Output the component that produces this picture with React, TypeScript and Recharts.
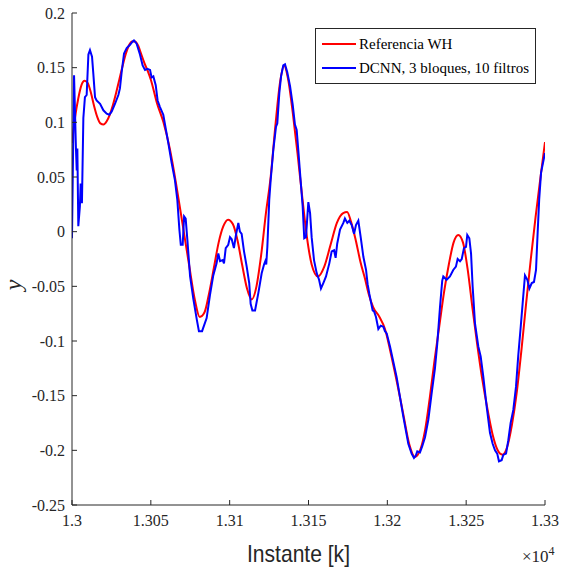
import { LineChart, Line, XAxis, YAxis, Legend } from 'recharts';

// Referencia WH (smooth reference)
const redX = [
  13000, 13002, 13004, 13006, 13008, 13010, 13012, 13014, 13016, 13018, 13020, 13022, 13024, 13026,
  13028, 13030, 13032, 13034, 13036, 13038, 13040, 13042, 13044, 13046, 13048, 13050, 13054, 13058,
  13062, 13066, 13070, 13074, 13078, 13081, 13084, 13087, 13090, 13093, 13096, 13099, 13102, 13105,
  13108, 13111, 13114, 13117, 13120, 13123, 13126, 13129, 13132, 13134.5, 13137, 13140, 13143, 13146,
  13149, 13152, 13156, 13160, 13164, 13168, 13172, 13174.5, 13177, 13180, 13183, 13186, 13188, 13191,
  13195, 13198.5, 13202, 13206, 13210, 13214, 13217.5, 13221, 13224, 13227, 13230, 13233, 13236, 13239,
  13242, 13245, 13248, 13251, 13254, 13257, 13260, 13264, 13267, 13270, 13273, 13276, 13279, 13282,
  13285, 13288, 13291, 13294, 13297, 13300,
];
const redY = [
  0.081, 0.105, 0.122, 0.134, 0.138, 0.136, 0.127, 0.115, 0.105, 0.099, 0.098, 0.101, 0.107, 0.116,
  0.127, 0.139, 0.151, 0.162, 0.17, 0.174, 0.174, 0.17, 0.162, 0.154, 0.147, 0.139, 0.117, 0.1,
  0.076, 0.044, 0.008, -0.028, -0.063, -0.078, -0.074, -0.056, -0.033, -0.01, 0.005, 0.011, 0.007, -0.008,
  -0.031, -0.052, -0.062, -0.05, -0.021, 0.017, 0.05, 0.097, 0.137, 0.152, 0.14, 0.109, 0.072, 0.032,
  -0.005, -0.03, -0.041, -0.032, -0.012, 0.008, 0.017, 0.018, 0.009, -0.008, -0.028, -0.044, -0.056, -0.069,
  -0.078, -0.089, -0.11, -0.137, -0.166, -0.195, -0.206, -0.199, -0.181, -0.151, -0.117, -0.086, -0.055, -0.03,
  -0.01, -0.003, -0.01, -0.035, -0.07, -0.103, -0.133, -0.166, -0.187, -0.2, -0.204, -0.197, -0.177, -0.148,
  -0.109, -0.066, -0.025, 0.013, 0.048, 0.082,
];

// DCNN, 3 bloques, 10 filtros (noisy estimate)
const blueX = [
  13000, 13001.3, 13002.5, 13003, 13003.4, 13004, 13005, 13005.5, 13006.3, 13007.2, 13008.2, 13009.3,
  13010.4, 13011.4, 13012.7, 13013.5, 13014.6, 13015.6, 13017.8, 13019.9, 13022, 13023.7, 13025.2, 13027.3,
  13029.4, 13030.4, 13031.5, 13033, 13034.7, 13036.8, 13038.5, 13039.3, 13041, 13043.1, 13044.8, 13046.3,
  13047.8, 13049.5, 13050.5, 13051.6, 13053.1, 13054.3, 13055.8, 13057.9, 13059.6, 13061.1, 13063.2, 13065.3,
  13066.8, 13068.1, 13069, 13070.2, 13071.1, 13072.1, 13073.2, 13074.9, 13077, 13079.1, 13080.5, 13082.5,
  13085.4, 13087.5, 13089.6, 13091.7, 13092.8, 13093.9, 13095.6, 13096.4, 13097.5, 13099.1, 13100.2, 13101.3,
  13102.7, 13104, 13105.5, 13106.5, 13107.6, 13109.1, 13110.8, 13112.4, 13113.3, 13114.4, 13116.1, 13118.2,
  13120.3, 13121.8, 13122.6, 13123.2, 13123.9, 13125.1, 13126, 13127.7, 13129.4, 13130.2, 13131.5, 13132.6,
  13134, 13135.1, 13136.5, 13138.3, 13140, 13141.4, 13142.5, 13143.5, 13145, 13146.3, 13147.3, 13148.4,
  13149.9, 13151, 13152, 13153.5, 13155.2, 13156.7, 13157.9, 13159.4, 13161.1, 13163.2, 13164.7, 13166.2,
  13167.2, 13168.2, 13170, 13172.1, 13173.1, 13174.6, 13175.9, 13177.4, 13178.9, 13180.1, 13181.6, 13183.1,
  13184.8, 13186.5, 13187.5, 13188.6, 13190.7, 13191.6, 13192.8, 13194.3, 13195.8, 13197.5, 13198.5, 13199.6,
  13201.7, 13205.9, 13210.1, 13213.3, 13215.4, 13216.9, 13218, 13219, 13220.7, 13222.2, 13223.9, 13226,
  13228.1, 13230.2, 13231.7, 13233.4, 13234.8, 13235.5, 13237.6, 13239.7, 13241.8, 13243.5, 13244.6, 13246.1,
  13247.2, 13248.6, 13249.9, 13250.7, 13252, 13253.1, 13254.1, 13255.6, 13257.7, 13259.2, 13260.9, 13263,
  13265.1, 13266.8, 13268.3, 13269.7, 13270.8, 13272.5, 13273.6, 13275.3, 13276.7, 13278.2, 13279.9, 13281.6,
  13283, 13284.6, 13285.8, 13287.3, 13288.8, 13290.1, 13291.6, 13293, 13294.3, 13295.3, 13296.3, 13297.5,
  13300,
];
const blueY = [
  -0.006, 0.143, 0.076, 0.056, 0.076, 0.005, 0.023, 0.044, 0.026, 0.104, 0.123, 0.125,
  0.162, 0.166, 0.16, 0.145, 0.123, 0.12, 0.117, 0.111, 0.108, 0.107, 0.11, 0.117,
  0.125, 0.131, 0.146, 0.163, 0.168, 0.171, 0.174, 0.175, 0.172, 0.162, 0.152, 0.148,
  0.149, 0.148, 0.141, 0.142, 0.134, 0.12, 0.114, 0.107, 0.093, 0.081, 0.063, 0.047,
  0.029, 0.002, -0.012, -0.012, 0.014, 0.012, -0.008, -0.041, -0.062, -0.08, -0.091, -0.091,
  -0.079, -0.058, -0.04, -0.029, -0.02, -0.027, -0.026, -0.029, -0.015, -0.012, -0.005, -0.007,
  -0.015, -0.003, 0.008, 0.0, -0.002, -0.018, -0.032, -0.047, -0.066, -0.072, -0.072, -0.056,
  -0.038, -0.03, -0.027, -0.03, -0.014, 0.029, 0.047, 0.075, 0.096, 0.099, 0.127, 0.142,
  0.152, 0.153, 0.146, 0.133, 0.116, 0.098, 0.093, 0.075, 0.047, 0.023, -0.006, -0.005,
  0.027, 0.017, -0.005, -0.026, -0.038, -0.044, -0.052, -0.047, -0.041, -0.029, -0.018, -0.017,
  -0.024, -0.011, 0.002, 0.008, 0.012, 0.008, 0.01, 0.006, -0.002, 0.006, 0.01, -0.005,
  -0.023, -0.035, -0.048, -0.057, -0.072, -0.073, -0.078, -0.089, -0.086, -0.087, -0.091, -0.093,
  -0.105, -0.133, -0.169, -0.194, -0.203, -0.207, -0.205, -0.201, -0.202, -0.196, -0.188, -0.172,
  -0.148, -0.125, -0.102, -0.069, -0.045, -0.041, -0.044, -0.041, -0.035, -0.032, -0.025, -0.027,
  -0.025, -0.015, -0.014, -0.003, -0.006, -0.02, -0.05, -0.084, -0.105, -0.114, -0.133, -0.16,
  -0.184, -0.194, -0.2, -0.203, -0.21, -0.209, -0.204, -0.203, -0.191, -0.175, -0.163, -0.142,
  -0.114, -0.087, -0.066, -0.04, -0.044, -0.052, -0.047, -0.046, -0.035, -0.002, 0.029, 0.054,
  0.072,
];

const xTicks = [13000, 13050, 13100, 13150, 13200, 13250, 13300];
const xTickLabels = ['1.3', '1.305', '1.31', '1.315', '1.32', '1.325', '1.33'];
const yTicks = [-0.25, -0.2, -0.15, -0.1, -0.05, 0, 0.05, 0.1, 0.15, 0.2];
const yTickLabels = ['-0.25', '-0.2', '-0.15', '-0.1', '-0.05', '0', '0.05', '0.1', '0.15', '0.2'];

const redData = redX.map((x, i) => ({ x, y: redY[i] }));
const blueData = blueX.map((x, i) => ({ x, y: blueY[i] }));

const AXIS = '#262626';
const TICK = 5;
const SERIF = '"Liberation Serif", "Times New Roman", serif';

function BottomTick(props: any) {
  const { x, y, payload } = props;
  const ay = y - 8;
  const i = xTicks.indexOf(payload.value);
  return (
    <g>
      <line x1={x} x2={x} y1={ay} y2={ay - TICK} stroke={AXIS} />
      <text x={x} y={y} dy="0.8em" textAnchor="middle" fontFamily={SERIF} fontSize={16} fill="#262626">
        {xTickLabels[i]}
      </text>
    </g>
  );
}

function TopTick(props: any) {
  const { x, y } = props;
  return <line x1={x} x2={x} y1={y} y2={y + TICK} stroke={AXIS} />;
}

function LeftTick(props: any) {
  const { x, y, payload } = props;
  const ax = x + 7;
  const i = yTicks.indexOf(payload.value);
  return (
    <g>
      <line x1={ax} x2={ax + TICK} y1={y} y2={y} stroke={AXIS} />
      <text x={x} y={y} dy="0.35em" textAnchor="end" fontFamily={SERIF} fontSize={16} fill="#262626">
        {yTickLabels[i]}
      </text>
    </g>
  );
}

function RightTick(props: any) {
  const { x, y } = props;
  return <line x1={x} x2={x - TICK} y1={y} y2={y} stroke={AXIS} />;
}

function XLabel(props: any) {
  const { x, y, width } = props.viewBox;
  return (
    <g>
      <text
        x={x + width / 2 - 10}
        y={y + 57}
        textAnchor="middle"
        fontFamily='"Liberation Sans", Arial, sans-serif'
        fontSize={24}
        textLength={103}
        lengthAdjust="spacingAndGlyphs"
        fill="#262626"
      >
        Instante [k]
      </text>
      <text x={x + width - 23} y={y + 57} fontFamily={SERIF} fontSize={17} fill="#262626">
        ×10
        <tspan dy={-7} fontSize={12}>4</tspan>
      </text>
    </g>
  );
}

function YLabel(props: any) {
  const { x, y, height } = props.viewBox;
  const cx = x + 21;
  const cy = y + height / 2 + 26;
  return (
    <text
      x={cx}
      y={cy}
      transform={`rotate(-90 ${cx} ${cy})`}
      textAnchor="middle"
      fontFamily={SERIF}
      fontStyle="italic"
      fontSize={24}
      fill="#262626"
    >
      y
    </text>
  );
}

function LegendBox() {
  const rows = [
    { color: '#ff0000', label: 'Referencia WH' },
    { color: '#0000ff', label: 'DCNN, 3 bloques, 10 filtros' },
  ];
  return (
    <div
      style={{
        border: `1px solid ${AXIS}`,
        background: '#fff',
        padding: '3px 6px 3px 5px',
        fontFamily: SERIF,
        fontSize: 15,
        color: '#000',
        lineHeight: '24px',
        whiteSpace: 'nowrap',
      }}
    >
      {rows.map((r) => (
        <div key={r.label} style={{ display: 'flex', alignItems: 'center' }}>
          <svg width={36} height={10} style={{ marginRight: 2 }}>
            <line x1={1} x2={35} y1={5} y2={5} stroke={r.color} strokeWidth={2} />
          </svg>
          <span>{r.label}</span>
        </div>
      ))}
    </div>
  );
}

export default function App() {
  return (
    <div style={{ position: 'absolute', left: 0, top: 0, width: 561, height: 574, background: '#fff' }}>
      <LineChart width={561} height={574} margin={{ top: 13, right: 16, bottom: 29, left: 0 }}>
        <XAxis
          dataKey="x"
          type="number"
          domain={[13000, 13300]}
          ticks={xTicks}
          interval={0}
          allowDataOverflow
          height={40}
          tickSize={0}
          tickMargin={8}
          tick={<BottomTick />}
          axisLine={{ stroke: AXIS }}
          label={<XLabel />}
        />
        <XAxis
          xAxisId="top"
          orientation="top"
          dataKey="x"
          type="number"
          domain={[13000, 13300]}
          ticks={xTicks}
          interval={0}
          allowDataOverflow
          height={0}
          tickSize={0}
          tickMargin={0}
          tick={<TopTick />}
          axisLine={{ stroke: AXIS }}
        />
        <YAxis
          type="number"
          domain={[-0.25, 0.2]}
          ticks={yTicks}
          interval={0}
          allowDataOverflow
          width={72}
          tickSize={0}
          tickMargin={7}
          tick={<LeftTick />}
          axisLine={{ stroke: AXIS }}
          label={<YLabel />}
        />
        <YAxis
          yAxisId="right"
          orientation="right"
          type="number"
          domain={[-0.25, 0.2]}
          ticks={yTicks}
          interval={0}
          allowDataOverflow
          width={0}
          tickSize={0}
          tickMargin={0}
          tick={<RightTick />}
          axisLine={{ stroke: AXIS }}
        />
        <Legend
          layout="vertical"
          align="center"
          verticalAlign="middle"
          wrapperStyle={{ top: 28, left: 315, width: 'auto' }}
          content={<LegendBox />}
        />
        <Line
          data={redData}
          dataKey="y"
          type="monotone"
          stroke="#ff0000"
          strokeWidth={2}
          dot={false}
          activeDot={false}
          isAnimationActive={false}
        />
        <Line
          data={blueData}
          dataKey="y"
          type="linear"
          stroke="#0000ff"
          strokeWidth={2}
          dot={false}
          activeDot={false}
          isAnimationActive={false}
        />
      </LineChart>
    </div>
  );
}
